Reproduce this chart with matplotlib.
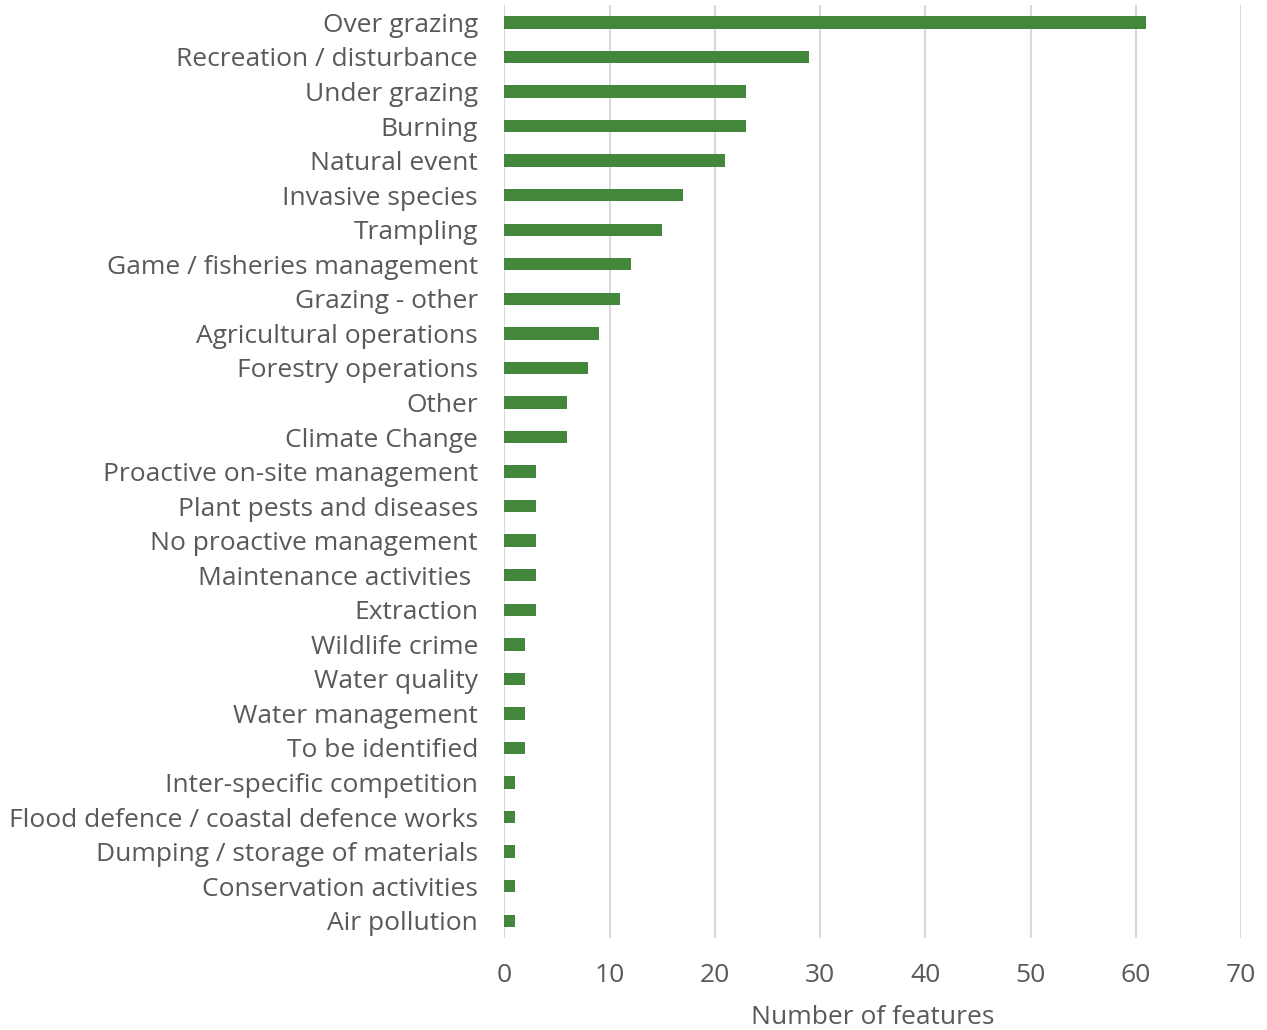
import numpy as np
import matplotlib
matplotlib.use('Agg')
import matplotlib.pyplot as plt

# Pressões sobre as features (ordem do gráfico, de cima para baixo)
categorias = [
    'Over grazing', 'Recreation / disturbance', 'Under grazing', 'Burning',
    'Natural event', 'Invasive species', 'Trampling', 'Game / fisheries management',
    'Grazing - other', 'Agricultural operations', 'Forestry operations', 'Other',
    'Climate Change', 'Proactive on-site management', 'Plant pests and diseases',
    'No proactive management', 'Maintenance activities ', 'Extraction',
    'Wildlife crime', 'Water quality', 'Water management', 'To be identified',
    'Inter-specific competition', 'Flood defence / coastal defence works',
    'Dumping / storage of materials', 'Conservation activities', 'Air pollution',
]
valores = [61, 29, 23, 23, 21, 17, 15, 12, 11, 9, 8, 6, 6,
           3, 3, 3, 3, 3, 2, 2, 2, 2, 1, 1, 1, 1, 1]
xticks = [0, 10, 20, 30, 40, 50, 60, 70]

COR_BARRA = '#43873C'
COR_TEXTO = '#595959'

plt.rcParams['font.family'] = ['Open Sans', 'DejaVu Sans']

fig = plt.figure(figsize=(12.67, 10.30), dpi=100)
ax = fig.add_axes([0.398, 0.0893, 0.5815, 0.9057])

y = np.arange(len(categorias))
ax.barh(y, valores, height=0.36, color=COR_BARRA, zorder=3)

ax.set_ylim(len(categorias) - 0.5, -0.5)
ax.set_xlim(0, 70)
ax.set_yticks(y)
ax.set_yticklabels(categorias, fontsize=19, color=COR_TEXTO)
ax.set_xticks(xticks)
ax.set_xticklabels([str(t) for t in xticks], fontsize=19, color=COR_TEXTO)
ax.tick_params(axis='both', length=0)
ax.tick_params(axis='y', pad=19)
ax.tick_params(axis='x', pad=18)

ax.grid(axis='x', color='#D9D9D9', linewidth=1.5, zorder=0)
ax.grid(axis='y', visible=False)
for s in ax.spines.values():
    s.set_visible(False)

ax.set_xlabel('Number of features', fontsize=19, color=COR_TEXTO, labelpad=12)

fig.savefig('out.png', dpi=100)
